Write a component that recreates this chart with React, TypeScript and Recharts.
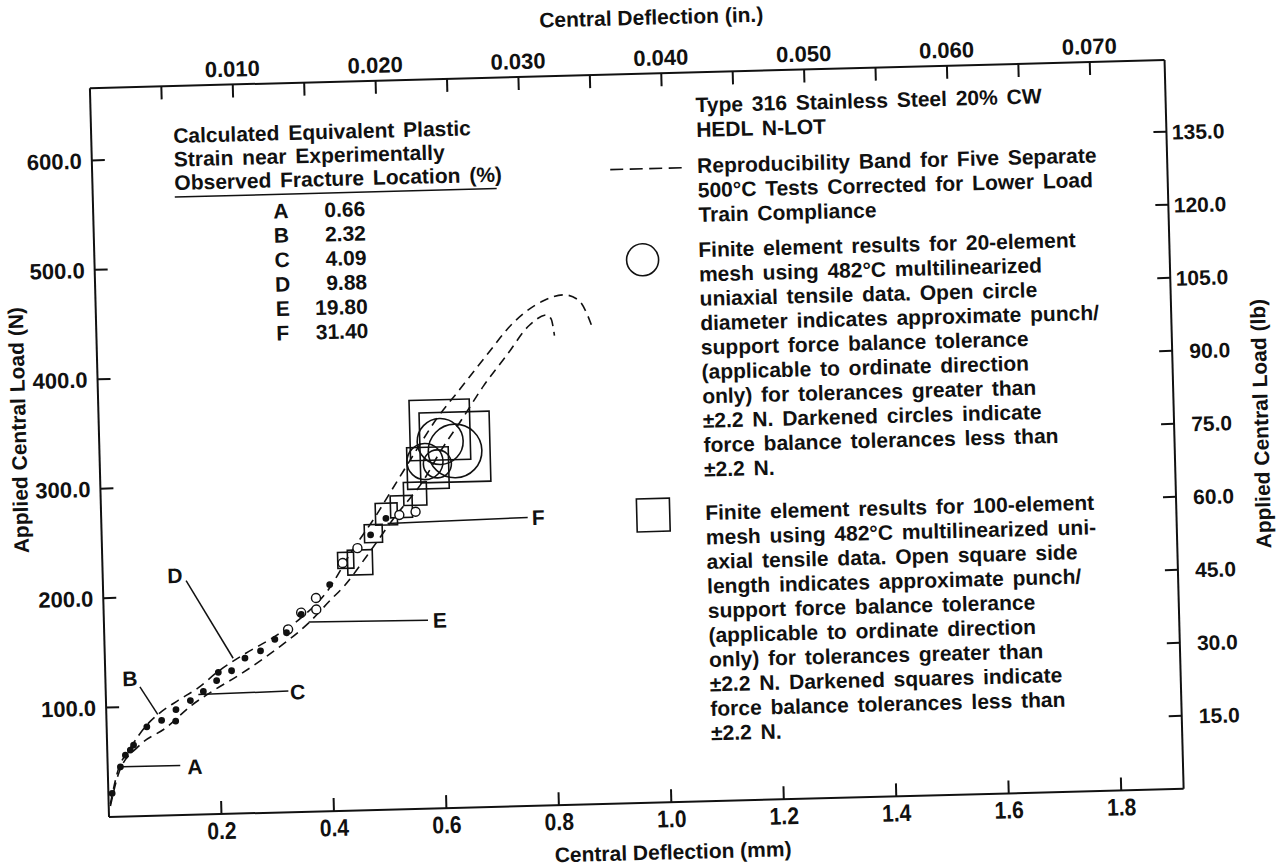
import React from "react";
import { ComposedChart, Line, Scatter, XAxis, YAxis } from "recharts";

const INK = "#111";
const FONT = "'Liberation Sans', Arial, Helvetica, sans-serif";

// frame of the chart before the scan tilt is applied
const W = 1287;
const H = 920;
const PLOT_LEFT = 109;
const PLOT_TOP = 88;
const PLOT_RIGHT = 1184;
const PLOT_BOTTOM = 817;
const TILT = -1.5;

const X_MAX = 1.911; // mm
const Y_MAX = 666; // N
const MM_PER_IN = 25.4;
const N_PER_LB = 4.448;

const mmTicks = [0.2, 0.4, 0.6, 0.8, 1.0, 1.2, 1.4, 1.6, 1.8];
const inTicks = [0.005, 0.01, 0.015, 0.02, 0.025, 0.03, 0.035, 0.04, 0.045, 0.05, 0.055, 0.06, 0.065, 0.07];
const inLabels = ["0.010", "0.020", "0.030", "0.040", "0.050", "0.060", "0.070"];
const nTicks = [100, 200, 300, 400, 500, 600];
const lbTicks = [15, 30, 45, 60, 75, 90, 105, 120, 135];

// reproducibility band (dashed), deflection mm / load N
const upperX = [0.003, 0.02, 0.038, 0.075, 0.093, 0.129, 0.165, 0.2, 0.25, 0.3, 0.35, 0.4, 0.44, 0.49, 0.528, 0.565, 0.601, 0.643, 0.693, 0.742, 0.796, 0.832, 0.858, 0.872, 0.88];
const upperY = [12, 45, 60, 85, 93, 105, 116, 130, 146, 160, 177, 202, 234, 270, 300, 329, 356, 382, 413, 442, 461, 466, 461, 449, 438];
const lowerX = [0.003, 0.0195, 0.056, 0.105, 0.152, 0.195, 0.236, 0.285, 0.321, 0.363, 0.404, 0.43, 0.47, 0.52, 0.576, 0.606, 0.646, 0.686, 0.728, 0.77, 0.801, 0.809, 0.814];
const lowerY = [10, 40, 64, 80, 100, 114, 126, 142, 155, 172, 193, 206, 232, 266, 301, 326, 355, 385, 412, 439, 448, 444, 429];

// darkened (filled) small circles
const filledX = [0.0067, 0.0226, 0.032, 0.041, 0.047, 0.0714, 0.098, 0.124, 0.123, 0.15, 0.1735, 0.1976, 0.201, 0.2246, 0.249, 0.277, 0.303, 0.324, 0.351, 0.403, 0.478, 0.506];
const filledY = [21.5, 45.5, 56, 60.5, 65, 81.3, 87, 96.4, 86, 104.4, 112.5, 122, 129.5, 130.6, 141.8, 148, 158.3, 164, 180.4, 207, 251.4, 266];

// small open circles
const openX = [0.327, 0.351, 0.378, 0.378, 0.427, 0.454, 0.53, 0.559];
const openY = [167, 182, 195, 184.5, 226.3, 239.6, 268.9, 271.4];

// open squares: side = force balance tolerance (N)
const squareX = [0.4326, 0.458, 0.483, 0.507, 0.534, 0.559, 0.583, 0.606, 0.632];
const squareY = [228.7, 226.5, 252.5, 270, 276.4, 287.9, 311, 345.6, 329.6];
const squareTol = [14.6, 22.8, 16.4, 20, 20, 21, 38, 55, 64];

// open circles: diameter = force balance tolerance (N)
const circleX = [0.606, 0.632, 0.578, 0.6];
const circleY = [335, 326, 317, 314.6];
const circleTol = [42, 49, 33, 25.6];

// fracture location leaders
const leaderNames = ["A", "B", "C", "D", "E", "F"];
const leaderStart = [[0.0255, 45.5], [0.061, 118], [0.1645, 109.7], [0.148, 214], [0.364, 173.4], [0.5086, 261.3]];
const leaderEnd = [[0.129, 45.4], [0.0914, 92.6], [0.3246, 110.7], [0.228, 142], [0.576, 172], [0.758, 263.6]];
const leaderLabelAt = [[0.1548, 44], [0.0437, 126], [0.341, 109.8], [0.1285, 219], [0.597, 171.9], [0.7768, 263.3]];

const strainValues = ["0.66", "2.32", "4.09", "9.88", "19.80", "31.40"];

const strainTitle = ["Calculated Equivalent Plastic", "Strain near Experimentally", "Observed Fracture Location (%)"];
const headerLines = ["Type 316 Stainless Steel 20% CW", "HEDL N-LOT"];
const bandLines = ["Reproducibility Band for Five Separate", "500°C Tests Corrected for Lower Load", "Train Compliance"];
const circleLines = [
  "Finite element results for 20-element",
  "mesh using 482°C multilinearized",
  "uniaxial tensile data. Open circle",
  "diameter indicates approximate punch/",
  "support force balance tolerance",
  "(applicable to ordinate direction",
  "only) for tolerances greater than",
  "±2.2 N. Darkened circles indicate",
  "force balance tolerances less than",
  "±2.2 N.",
];
const squareLines = [
  "Finite element results for 100-element",
  "mesh using 482°C multilinearized uni-",
  "axial tensile data. Open square side",
  "length indicates approximate punch/",
  "support force balance tolerance",
  "(applicable to ordinate direction",
  "only) for tolerances greater than",
  "±2.2 N. Darkened squares indicate",
  "force balance tolerances less than",
  "±2.2 N.",
];

const upperBand = upperX.map((x, i) => ({ x, y: upperY[i] }));
const lowerBand = lowerX.map((x, i) => ({ x, y: lowerY[i] }));
const filledPts = filledX.map((x, i) => ({ x, y: filledY[i] }));
const openPts = openX.map((x, i) => ({ x, y: openY[i] }));
const squarePts = squareX.map((x, i) => ({ x, y: squareY[i], tol: squareTol[i] }));
const circlePts = circleX.map((x, i) => ({ x, y: circleY[i], tol: circleTol[i] }));
const leaderLines = leaderNames.map((_, i) => [
  { x: leaderStart[i][0], y: leaderStart[i][1] },
  { x: leaderEnd[i][0], y: leaderEnd[i][1] },
]);
const leaderLabels = leaderNames.map((t, i) => ({ x: leaderLabelAt[i][0], y: leaderLabelAt[i][1], t }));

// the inch axis shares the mm scale; its ticks sit at the inch values converted to mm
const inTicksMm = inTicks.map((v) => v * MM_PER_IN);

const PX_PER_N = (PLOT_BOTTOM - PLOT_TOP) / Y_MAX;

const txt = { fontFamily: FONT, fontWeight: 700, fill: INK } as const;

function BottomTick(props: any) {
  const { x, y, payload } = props;
  return (
    <g>
      <line x1={x} y1={y} x2={x} y2={y - 13} stroke={INK} strokeWidth={2} />
      <text transform={`translate(${x},${y + 25}) scale(0.88,1)`} textAnchor="middle" fontSize={24} {...txt}>
        {Number(payload.value).toFixed(1)}
      </text>
    </g>
  );
}

function TopTick(props: any) {
  const { x, y, payload } = props;
  const label = (Number(payload.value) / MM_PER_IN).toFixed(3);
  return (
    <g>
      <line x1={x} y1={y} x2={x} y2={y + 13} stroke={INK} strokeWidth={2} />
      {inLabels.includes(label) && (
        <text x={x} y={y - 8} textAnchor="middle" fontSize={22} {...txt}>
          {label}
        </text>
      )}
    </g>
  );
}

function LeftTick(props: any) {
  const { x, y, payload } = props;
  return (
    <g>
      <line x1={x} y1={y} x2={x + 13} y2={y} stroke={INK} strokeWidth={2} />
      <text x={x - 10} y={y + 8} textAnchor="end" fontSize={22} {...txt}>
        {Number(payload.value).toFixed(1)}
      </text>
    </g>
  );
}

function RightTick(props: any) {
  const { x, y, payload } = props;
  return (
    <g>
      <line x1={x} y1={y} x2={x - 13} y2={y} stroke={INK} strokeWidth={2} />
      <text x={x + 58} y={y + 8} textAnchor="end" fontSize={21} {...txt}>
        {Number(payload.value).toFixed(1)}
      </text>
    </g>
  );
}

const FilledDot = (p: any) => <circle cx={p.cx} cy={p.cy} r={3.4} fill={INK} />;
const OpenDot = (p: any) => <circle cx={p.cx} cy={p.cy} r={4.5} fill="#fff" stroke={INK} strokeWidth={1.4} />;
const ToleranceSquare = (p: any) => {
  const s = p.payload.tol * PX_PER_N;
  return <rect x={p.cx - s / 2} y={p.cy - s / 2} width={s} height={s} fill="none" stroke={INK} strokeWidth={1.6} />;
};
const ToleranceCircle = (p: any) => (
  <circle cx={p.cx} cy={p.cy} r={(p.payload.tol * PX_PER_N) / 2} fill="none" stroke={INK} strokeWidth={1.6} />
);
const LeaderLabel = (p: any) => (
  <text x={p.cx} y={p.cy} textAnchor="middle" dominantBaseline="central" fontSize={21} {...txt}>
    {p.payload.t}
  </text>
);

function Notes() {
  const wide = { ...txt, fontSize: 21, style: { wordSpacing: "3px" } };
  return (
    <svg width={W} height={H} style={{ position: "absolute", left: 0, top: 0 }}>
      {/* axis titles */}
      <text x={672} y={39} textAnchor="middle" fontSize={21} {...txt}>Central Deflection (in.)</text>
      <text x={672} y={874} textAnchor="middle" fontSize={21} {...txt}>Central Deflection (mm)</text>
      <text transform="translate(36,428) rotate(-90)" textAnchor="middle" fontSize={21} {...txt}>Applied Central Load (N)</text>
      <text transform="translate(1278,454) rotate(-90)" textAnchor="middle" fontSize={21} {...txt}>Applied Central Load (lb)</text>

      {/* strain table */}
      {strainTitle.map((s, i) => (
        <text key={s} x={191} y={145 + i * 23.5} {...wide}>{s}</text>
      ))}
      <line x1={191} y1={199} x2={513} y2={199} stroke={INK} strokeWidth={1.5} />
      {leaderNames.map((t, i) => (
        <g key={t}>
          <text x={289} y={223 + i * 24.4} {...wide}>{t}</text>
          <text x={381} y={223 + i * 24.4} textAnchor="end" {...wide}>{strainValues[i]}</text>
        </g>
      ))}

      {/* key */}
      {headerLines.map((s, i) => (
        <text key={s} x={714} y={128 + i * 24.6} {...wide}>{s}</text>
      ))}
      <line x1={627} y1={183} x2={699} y2={183} stroke={INK} strokeWidth={1.6} strokeDasharray="13 6.5" />
      {bandLines.map((s, i) => (
        <text key={s} x={714} y={188.6 + i * 24.5} {...wide}>{s}</text>
      ))}
      <circle cx={657} cy={274} r={16} fill="none" stroke={INK} strokeWidth={1.6} />
      {circleLines.map((s, i) => (
        <text key={i} x={713} y={272.7 + i * 24.4} {...wide}>{s}</text>
      ))}
      <rect x={661 - 16.5} y={529.4 - 16.5} width={33} height={33} fill="none" stroke={INK} strokeWidth={1.6} />
      {squareLines.map((s, i) => (
        <text key={i} x={713} y={535.7 + i * 24.5} {...wide}>{s}</text>
      ))}
    </svg>
  );
}

export default function App() {
  const axisLine = { stroke: INK, strokeWidth: 2 };
  return (
    <div style={{ position: "fixed", left: 0, top: 0, width: 1287, height: 867, overflow: "hidden", background: "#fff" }}>
      <div
        style={{
          position: "absolute",
          left: 0,
          top: 0,
          width: W,
          height: H,
          transform: `rotate(${TILT}deg)`,
          transformOrigin: "108px 817px",
        }}
      >
        <ComposedChart
          width={W}
          height={H}
          margin={{ top: PLOT_TOP - 30, right: W - PLOT_RIGHT - 60, bottom: H - PLOT_BOTTOM - 30, left: PLOT_LEFT - 60 }}
        >
          <XAxis
            xAxisId="mm"
            dataKey="x"
            type="number"
            domain={[0, X_MAX]}
            ticks={mmTicks}
            interval={0}
            height={30}
            tickSize={0}
            tickMargin={0}
            tickLine={false}
            axisLine={axisLine}
            tick={BottomTick}
            allowDataOverflow
          />
          <XAxis
            xAxisId="in"
            dataKey="x"
            orientation="top"
            type="number"
            domain={[0, X_MAX]}
            ticks={inTicksMm}
            interval={0}
            height={30}
            tickSize={0}
            tickMargin={0}
            tickLine={false}
            axisLine={axisLine}
            tick={TopTick}
            allowDataOverflow
          />
          <YAxis
            yAxisId="N"
            dataKey="y"
            type="number"
            domain={[0, Y_MAX]}
            ticks={nTicks}
            interval={0}
            width={60}
            tickSize={0}
            tickMargin={0}
            tickLine={false}
            axisLine={axisLine}
            tick={LeftTick}
            allowDataOverflow
          />
          <YAxis
            yAxisId="lb"
            orientation="right"
            type="number"
            domain={[0, Y_MAX / N_PER_LB]}
            ticks={lbTicks}
            interval={0}
            width={60}
            tickSize={0}
            tickMargin={0}
            tickLine={false}
            axisLine={axisLine}
            tick={RightTick}
            allowDataOverflow
          />

          <Line xAxisId="mm" yAxisId="N" data={upperBand} dataKey="y" type="monotone" stroke={INK} strokeWidth={1.6} strokeDasharray="9 6" dot={false} activeDot={false} isAnimationActive={false} />
          <Line xAxisId="mm" yAxisId="N" data={lowerBand} dataKey="y" type="monotone" stroke={INK} strokeWidth={1.6} strokeDasharray="9 6" dot={false} activeDot={false} isAnimationActive={false} />

          {leaderLines.map((seg, i) => (
            <Line key={leaderNames[i]} xAxisId="mm" yAxisId="N" data={seg} dataKey="y" type="linear" stroke={INK} strokeWidth={1.5} dot={false} activeDot={false} isAnimationActive={false} />
          ))}

          <Scatter xAxisId="mm" yAxisId="N" data={squarePts} dataKey="y" shape={ToleranceSquare} isAnimationActive={false} />
          <Scatter xAxisId="mm" yAxisId="N" data={circlePts} dataKey="y" shape={ToleranceCircle} isAnimationActive={false} />
          <Scatter xAxisId="mm" yAxisId="N" data={openPts} dataKey="y" shape={OpenDot} isAnimationActive={false} />
          <Scatter xAxisId="mm" yAxisId="N" data={filledPts} dataKey="y" shape={FilledDot} isAnimationActive={false} />
          <Scatter xAxisId="in" yAxisId="N" data={leaderLabels} dataKey="y" shape={LeaderLabel} isAnimationActive={false} />
        </ComposedChart>
        <Notes />
      </div>
    </div>
  );
}
